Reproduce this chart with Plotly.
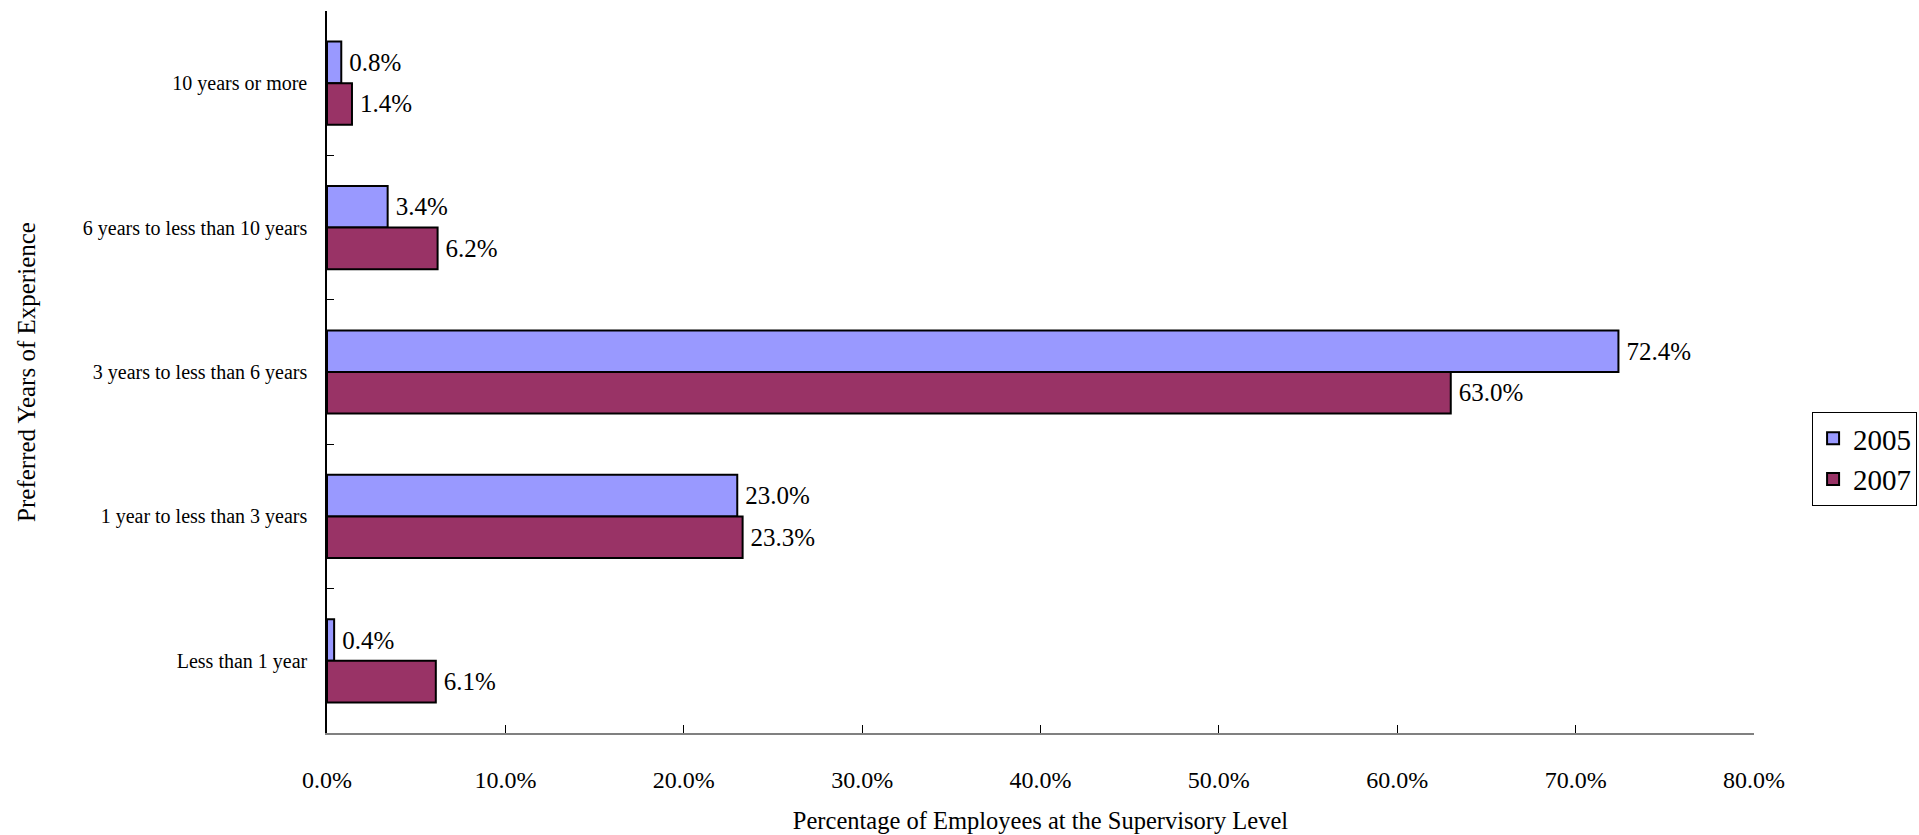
import plotly.graph_objects as go

categories = ["10 years or more", "6 years to less than 10 years", "3 years to less than 6 years",
              "1 year to less than 3 years", "Less than 1 year"]
values_2005 = [0.8, 3.4, 72.4, 23.0, 0.4]
values_2007 = [1.4, 6.2, 63.0, 23.3, 6.1]
series_names = ["2005", "2007"]

FONT = "Liberation Serif"

fig = go.Figure()
for name, vals, color in [(series_names[0], values_2005, "#9999FF"), (series_names[1], values_2007, "#993366")]:
    fig.add_trace(go.Bar(
        y=categories, x=vals, name=name, orientation="h",
        marker=dict(color=color, line=dict(color="black", width=2)),
        text=[f"\u2009{v:.1f}%" for v in vals], textposition="outside",
        textfont=dict(family=FONT, size=25, color="black"),
        outsidetextfont=dict(family=FONT, size=25, color="black"),
        cliponaxis=False,
    ))

fig.update_layout(
    width=1919, height=835,
    margin=dict(l=327, r=165, t=11, b=102, autoexpand=False),
    paper_bgcolor="white", plot_bgcolor="white",
    barmode="group", bargap=0.424, bargroupgap=0,
    font=dict(family=FONT, color="black"),
    legend=dict(x=1.0407, xanchor="left", y=0.4446, yanchor="top",
                bordercolor="black", borderwidth=1, bgcolor="white",
                font=dict(family=FONT, size=29, color="black"),
                traceorder="normal"),
    xaxis=dict(range=[0, 80], dtick=10, tickformat=".1f", ticksuffix="%",
               showgrid=False, zeroline=False, showline=True, linecolor="#808080", linewidth=1.5,
               ticks="inside", ticklen=8, tickcolor="black", tickwidth=1,
               tickfont=dict(family=FONT, size=24, color="black"),
               ticklabelstandoff=24,
               title=dict(text="Percentage of Employees at the Supervisory Level",
                          font=dict(family=FONT, size=24.5, color="black"), standoff=20)),
    yaxis=dict(autorange="reversed", showgrid=False, zeroline=False, showline=True,
               linecolor="black", linewidth=1.5, ticks="inside", ticklen=7, tickcolor="black",
               tickson="boundaries",
               tickfont=dict(family=FONT, size=20, color="black"),
               ticklabelstandoff=14,
               title=dict(text="Preferred Years of Experience",
                          font=dict(family=FONT, size=25, color="black"), standoff=40)),
)

fig.write_html("out.html")
